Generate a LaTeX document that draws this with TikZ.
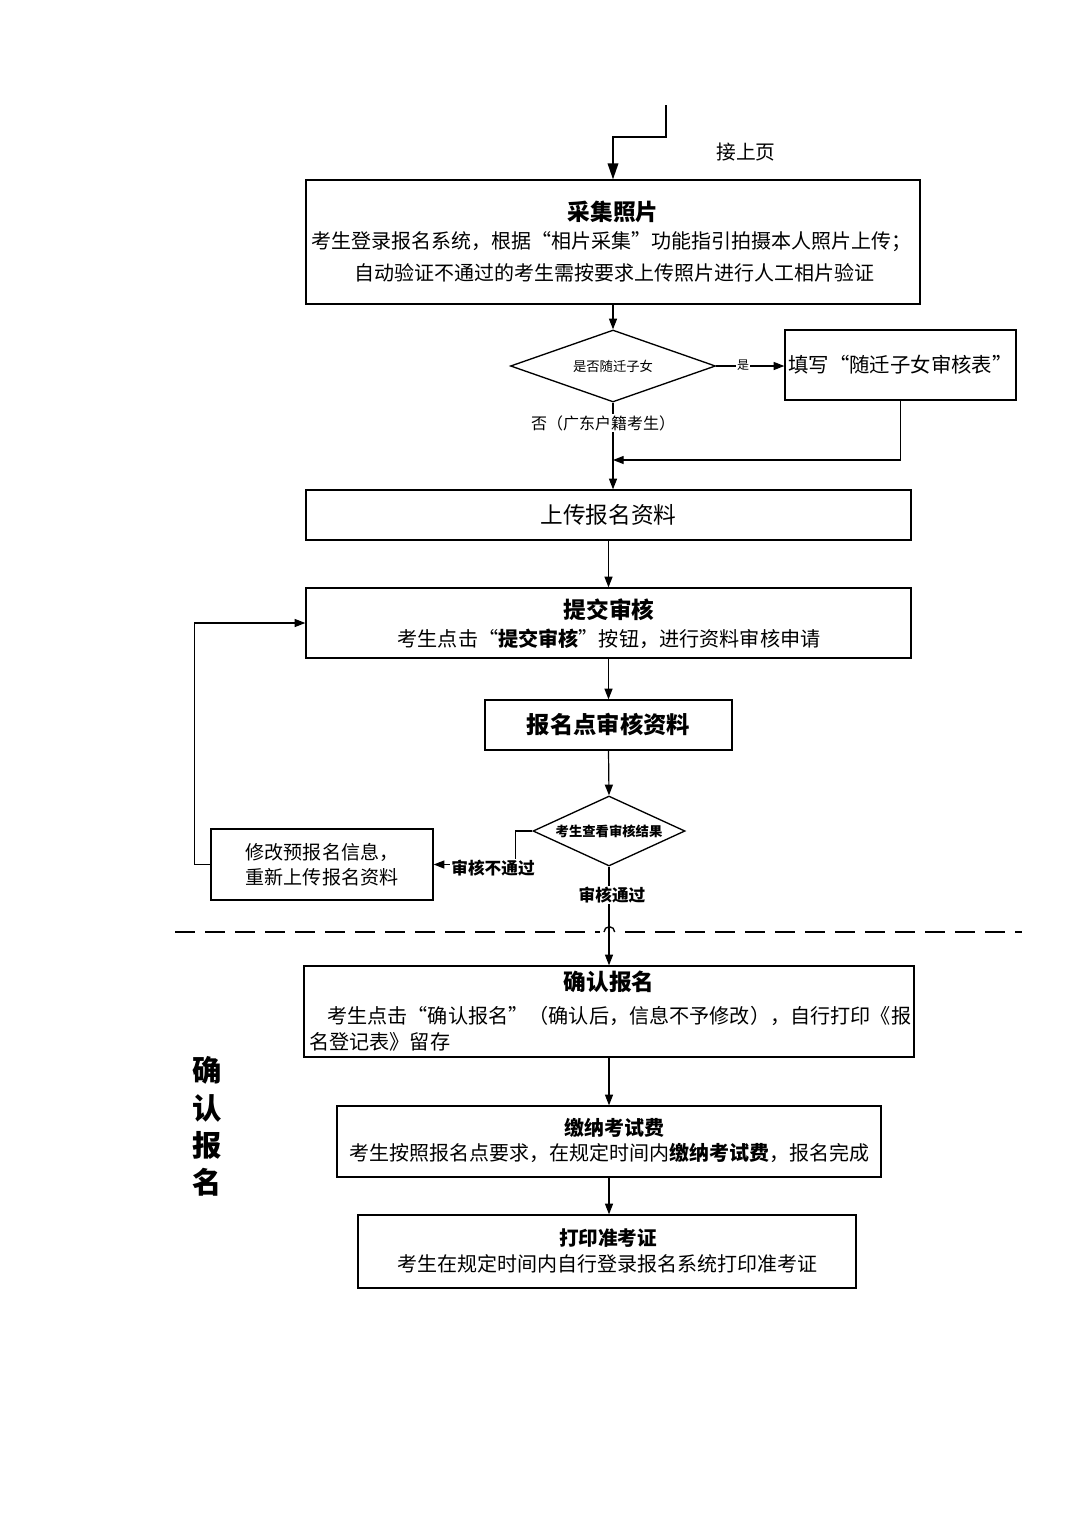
\documentclass[tikz,border=0pt]{standalone}
\usepackage{fontspec}
\setmainfont{Noto Sans CJK SC}
\usetikzlibrary{arrows.meta,shapes.geometric}
\begin{document}
\begin{tikzpicture}[x=0.75pt,y=-0.75pt,
  box/.style={draw, line width=1pt, rectangle, inner sep=0pt},
  dia/.style={draw, line width=1pt, diamond, inner sep=0pt},
  arr/.style={line width=0.9pt, -{Triangle[length=8pt,width=6pt]}},
  bigarr/.style={line width=1.1pt, -{Triangle[length=12pt,width=8pt]}},
  ln/.style={line width=1pt},
  ttl/.style={inner sep=0pt, font=\fontsize{17}{20}\selectfont\bfseries},
  bdy/.style={inner sep=0pt, font=\fontsize{15}{20}\selectfont},
  lbl/.style={fill=white, inner sep=1pt}]
\useasboundingbox (0,0) rectangle (1080,1527);

% dashed separator with hop
\coordinate (dl) at (175,932);
\coordinate (dr) at (1022,932);
\draw[ln, dash pattern=on 15pt off 7.5pt] (dl) -- (dr);
\fill[white] (600,927) rectangle (619,937);
\coordinate (hopA) at (604,932);
\draw[ln] (hopA) arc[start angle=180, end angle=0, radius=4pt];

% boxes
\node[box, minimum width=460.5pt, minimum height=93pt] (b1) at (613,242) {};
\node[ttl] (b1t) at (613,212) {采集照片};
\node[bdy] (b1a) at (611,242) {考生登录报名系统，根据“相片采集”功能指引拍摄本人照片上传；};
\node[bdy] (b1b) at (614,273) {自动验证不通过的考生需按要求上传照片进行人工相片验证};

\node[dia, aspect=2.85, minimum width=153.75pt, minimum height=54pt, font=\fontsize{10}{12}\selectfont] (d1) at (613,366) {是否随迁子女};

\node[box, minimum width=173.25pt, minimum height=52.5pt, font=\fontsize{15.3}{20}\selectfont] (b2) at (900.5,365) {填写“随迁子女审核表”};

\node[box, minimum width=453.75pt, minimum height=37.5pt, font=\fontsize{17}{20}\selectfont] (b3) at (608.5,515) {上传报名资料};

\node[box, minimum width=453.75pt, minimum height=52.5pt] (b4) at (608.5,623) {};
\node[ttl] (b4t) at (609,610) {提交审核};
\node[bdy, font=\fontsize{15.1}{20}\selectfont] (b4a) at (609,639) {考生点击“{\bfseries 提交审核}”按钮，进行资料审核申请};

\node[box, minimum width=185.25pt, minimum height=37.5pt, font=\fontsize{17.5}{20}\selectfont\bfseries] (b5) at (608.5,725) {报名点审核资料};

\node[dia, aspect=2.17, minimum width=114pt, minimum height=52.5pt, font=\fontsize{10}{12}\selectfont\bfseries] (d2) at (609,831) {考生查看审核结果};

\node[box, minimum width=166.5pt, minimum height=53.25pt, align=center, font=\fontsize{14.3}{18.75}\selectfont] (b6) at (322,864.5) {修改预报名信息，\\重新上传报名资料};

\node[box, minimum width=457.5pt, minimum height=68.25pt] (b7) at (609,1011.5) {};
\node[ttl] (b7t) at (609,982) {确认报名};
\node[bdy, anchor=west, font=\fontsize{15.1}{20}\selectfont] (b7a) at (327,1016) {考生点击“确认报名”（确认后，信息不予修改），自行打印《报};
\node[bdy, anchor=west, font=\fontsize{15.1}{20}\selectfont] (b7b) at (309,1042) {名登记表》留存};

\node[box, minimum width=408pt, minimum height=53.25pt] (b8) at (609,1141.5) {};
\node[ttl, font=\fontsize{15}{18}\selectfont\bfseries] (b8t) at (614,1128) {缴纳考试费};
\node[bdy, font=\fontsize{15}{20}\selectfont] (b8a) at (609,1153) {考生按照报名点要求，在规定时间内{\bfseries 缴纳考试费}，报名完成};

\node[box, minimum width=373.5pt, minimum height=54.75pt] (b9) at (607,1251.5) {};
\node[ttl, font=\fontsize{14.7}{18}\selectfont\bfseries] (b9t) at (608,1238) {打印准考证};
\node[bdy, font=\fontsize{15}{20}\selectfont] (b9a) at (607,1264) {考生在规定时间内自行登录报名系统打印准考证};

\node[align=center, inner sep=0pt, font=\fontsize{22}{28}\selectfont\bfseries] (side) at (207,1126.5) {确\\认\\报\\名};

\node[inner sep=0pt, font=\fontsize{14.8}{18}\selectfont] (prev) at (746,152) {接上页};

% connectors
\coordinate (top) at (666,105);
\draw[bigarr] (top) -- ++(0,32) -| (b1.north);
\draw[arr] (b1.south) -- (d1.north);
\draw[arr] (d1.east) -- (d1.east -| b2.west);
\node[lbl, font=\fontsize{9}{10}\selectfont] (yes) at (743,365) {是};
\draw[arr] (d1.south) -- (d1.south |- b3.north);
\node[lbl, font=\fontsize{12}{14}\selectfont] (nolbl) at (603,423) {否（广东户籍考生）};
\coordinate (m) at (613,460);
\draw[arr] (b2.south) |- (m);
\draw[arr] (b3.south) -- (b4.north);
\draw[arr] (b4.south) -- (b5.north);
\draw[arr] (b5.south) -- (d2.north);
\draw[arr] (d2.west) -- ++(-17,0) |- (b6.east);
\node[lbl, font=\fontsize{12.5}{14}\selectfont\bfseries] (fail) at (493,868) {审核不通过};
\draw[arr] (b6.west) -- ++(-16,0) |- (b4.west);
\draw[arr] (d2.south) -- (d2.south |- b7.north);
\node[lbl, font=\fontsize{12.5}{14}\selectfont\bfseries] (pass) at (612,895) {审核通过};
\draw[arr] (b7.south) -- (b8.north);
\draw[arr] (b8.south) -- (b8.south |- b9.north);
\end{tikzpicture}
\end{document}
